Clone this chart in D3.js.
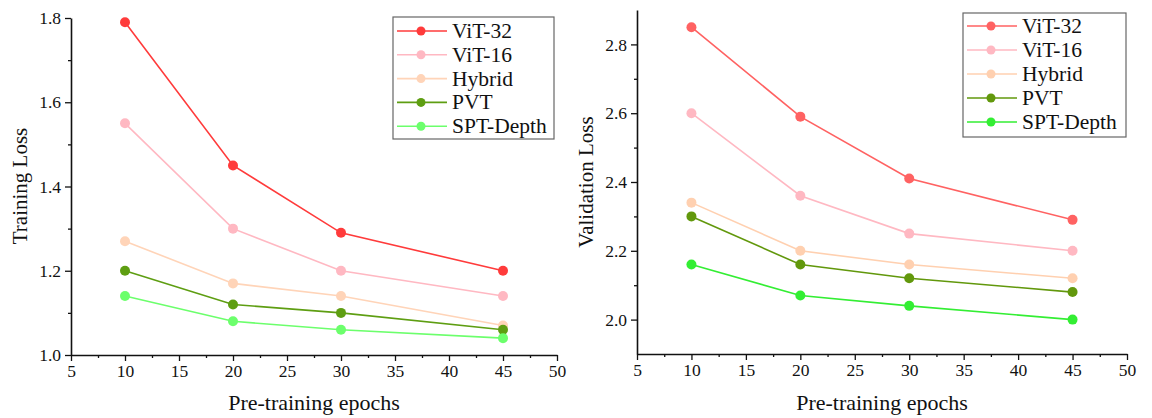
<!doctype html>
<html lang="en">
<head>
<meta charset="UTF-8">
<title>Loss curves</title>
<style>
  body { margin: 0; background: #fff; }
  svg text { font-family: "Liberation Serif", "DejaVu Serif", serif; fill: #111; }
</style>
</head>
<body>
<div class="container"></div>
<script src="https://d3js.org/d3.v7.min.js"></script>
<script>
  const epochs = [10, 20, 30, 45];
  const seriesNames = ['ViT-32', 'ViT-16', 'Hybrid', 'PVT', 'SPT-Depth'];

  const trainVit32 = [1.79, 1.45, 1.29, 1.20];
  const trainVit16 = [1.55, 1.30, 1.20, 1.14];
  const trainHybrid = [1.27, 1.17, 1.14, 1.07];
  const trainPvt = [1.20, 1.12, 1.10, 1.06];
  const trainSpt = [1.14, 1.08, 1.06, 1.04];

  const valVit32 = [2.85, 2.59, 2.41, 2.29];
  const valVit16 = [2.60, 2.36, 2.25, 2.20];
  const valHybrid = [2.34, 2.20, 2.16, 2.12];
  const valPvt = [2.30, 2.16, 2.12, 2.08];
  const valSpt = [2.16, 2.07, 2.04, 2.00];

  const xTicks = [5, 10, 15, 20, 25, 30, 35, 40, 45, 50];
  const trainTicks = [1.0, 1.2, 1.4, 1.6, 1.8];
  const valTicks = [2.0, 2.2, 2.4, 2.6, 2.8];

  const trainColors = ['#ff3b3b', '#ffb8c2', '#ffd4b8', '#5e9e12', '#6cff6c'];
  const valColors = ['#ff6262', '#ffb8c2', '#ffd0b0', '#62980c', '#33ee33'];

  const svg = d3.select('.container')
    .append('svg')
    .attr('width', 1152)
    .attr('height', 418);

  function drawPanel(cfg) {
    const x = d3.scaleLinear().domain([5, 50]).range([cfg.left, cfg.right]);
    const y = d3.scaleLinear().domain(cfg.yDomain).range([cfg.bottom, cfg.top]);
    const g = svg.append('g');

    // minor ticks
    const xMinor = d3.range(7.5, 50, 5);
    const yMinor = cfg.yMinor;

    g.append('g')
      .attr('transform', `translate(0, ${cfg.bottom})`)
      .call(d3.axisBottom(x).tickValues(xTicks).tickSize(6).tickSizeOuter(0).tickPadding(4));
    g.append('g')
      .attr('transform', `translate(0, ${cfg.bottom})`)
      .call(d3.axisBottom(x).tickValues(xMinor).tickSize(3).tickSizeOuter(0).tickFormat(''))
      .select('.domain').remove();

    g.append('g')
      .attr('transform', `translate(${cfg.left}, 0)`)
      .call(d3.axisLeft(y).tickValues(cfg.yTicks).tickSize(6).tickSizeOuter(0).tickPadding(4)
        .tickFormat(d3.format('.1f')));
    g.append('g')
      .attr('transform', `translate(${cfg.left}, 0)`)
      .call(d3.axisLeft(y).tickValues(yMinor).tickSize(3).tickSizeOuter(0).tickFormat(''))
      .select('.domain').remove();

    g.selectAll('.domain').attr('stroke', '#111').attr('stroke-width', 1.6);
    g.selectAll('.tick line').attr('stroke', '#111').attr('stroke-width', 1.3);
    g.selectAll('.tick text').style('font-size', '17.5px').attr('fill', '#111');

    // axis titles
    g.append('text')
      .attr('x', (cfg.left + cfg.right) / 2)
      .attr('y', 410)
      .attr('text-anchor', 'middle')
      .style('font-size', '22px')
      .text('Pre-training epochs');
    g.append('text')
      .attr('transform', `translate(${cfg.yTitleX}, ${cfg.yTitleY}) rotate(-90)`)
      .attr('text-anchor', 'middle')
      .style('font-size', '21px')
      .text(cfg.yTitle);

    const line = d3.line()
      .x((d, i) => x(epochs[i]))
      .y(d => y(d));

    cfg.series.forEach((vals, s) => {
      g.append('path')
        .datum(vals)
        .attr('fill', 'none')
        .attr('stroke', cfg.colors[s])
        .attr('stroke-width', 1.6)
        .attr('d', line);
    });
    cfg.series.forEach((vals, s) => {
      g.selectAll(null)
        .data(vals)
        .enter().append('circle')
        .attr('cx', (d, i) => x(epochs[i]))
        .attr('cy', d => y(d))
        .attr('r', 5)
        .attr('fill', cfg.colors[s]);
    });

    // legend
    const lg = g.append('g').attr('transform', `translate(${cfg.legX}, ${cfg.legY})`);
    lg.append('rect')
      .attr('width', cfg.legW).attr('height', cfg.legH)
      .attr('fill', '#fff').attr('stroke', '#666').attr('stroke-width', 1.2);
    seriesNames.forEach((name, s) => {
      const ry = cfg.legRow0 + s * cfg.legStep;
      lg.append('line')
        .attr('x1', 4).attr('x2', 54).attr('y1', ry).attr('y2', ry)
        .attr('stroke', cfg.colors[s]).attr('stroke-width', 1.6);
      lg.append('circle')
        .attr('cx', 28).attr('cy', ry).attr('r', 4.5)
        .attr('fill', cfg.colors[s]);
      lg.append('text')
        .attr('x', 59).attr('y', ry + 7)
        .style('font-size', '21.5px')
        .text(name);
    });
  }

  drawPanel({
    left: 71, right: 557, top: 18, bottom: 355,
    yDomain: [1.0, 1.8], yTicks: trainTicks, yMinor: [1.1, 1.3, 1.5, 1.7],
    yTitle: 'Training Loss', yTitleX: 27, yTitleY: 186,
    series: [trainVit32, trainVit16, trainHybrid, trainPvt, trainSpt],
    colors: trainColors,
    legX: 393, legY: 17, legW: 161, legH: 122, legRow0: 14, legStep: 23.8
  });

  drawPanel({
    left: 637, right: 1127, top: 10, bottom: 354,
    yDomain: [1.9, 2.9], yTicks: valTicks, yMinor: [2.1, 2.3, 2.5, 2.7],
    yTitle: 'Validation Loss', yTitleX: 593, yTitleY: 182,
    series: [valVit32, valVit16, valHybrid, valPvt, valSpt],
    colors: valColors,
    legX: 963, legY: 13, legW: 163, legH: 124, legRow0: 13, legStep: 24
  });
</script>
</body>
</html>
